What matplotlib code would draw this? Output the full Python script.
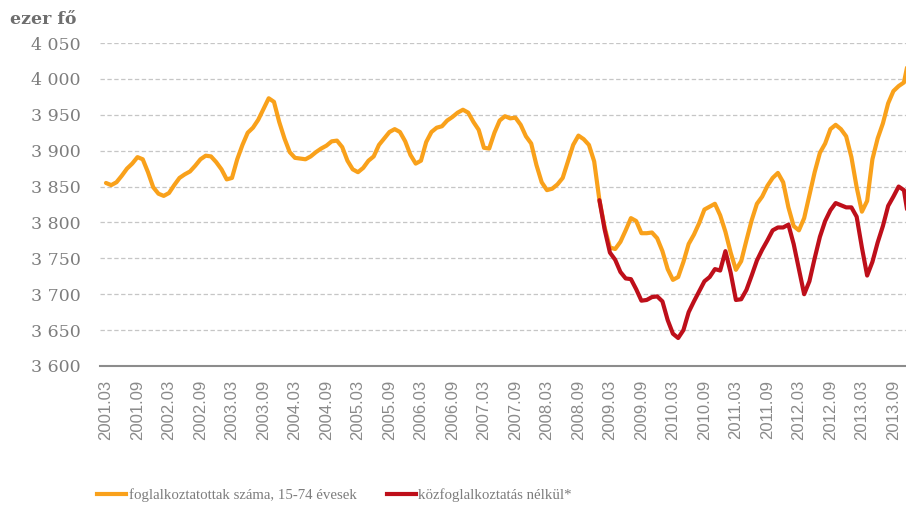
import matplotlib
matplotlib.use("Agg")
import matplotlib.pyplot as plt
import numpy as np
from matplotlib.lines import Line2D

# ---------------- data (thousand persons, monthly) ----------------
start_year, start_month = 2001, 3
employed = [
    3855, 3852, 3856, 3865, 3875, 3882, 3891, 3888, 3870, 3849,
    3840, 3837, 3841, 3852, 3862, 3867, 3871, 3879, 3888, 3893,
    3892, 3884, 3874, 3860, 3862, 3888, 3908, 3925, 3932, 3943,
    3958, 3973, 3968, 3940, 3917, 3898, 3890, 3889, 3888, 3892,
    3898, 3903, 3907, 3913, 3914, 3905, 3886, 3874, 3870, 3876,
    3886, 3892, 3908, 3917, 3926, 3930, 3926, 3913, 3894, 3882,
    3886, 3912, 3926, 3932, 3934, 3942, 3947, 3953, 3957, 3953,
    3940, 3929, 3904, 3903, 3925, 3942, 3948, 3945, 3946, 3936,
    3920, 3910, 3880, 3856, 3845, 3847, 3853, 3862, 3885, 3908,
    3921, 3916, 3908, 3885, 3831, 3793, 3765, 3763, 3773, 3789,
    3806, 3802, 3785, 3785, 3786, 3778, 3760, 3735, 3720, 3724,
    3745, 3770, 3783, 3799, 3818, 3822, 3826, 3810, 3787, 3758,
    3734, 3746, 3775, 3803, 3826, 3836, 3851, 3862, 3869, 3856,
    3821, 3795, 3789, 3806, 3838, 3870, 3897, 3910, 3930, 3936,
    3930, 3920, 3891, 3849, 3815, 3830, 3888, 3917, 3938, 3966,
    3983, 3990, 3995, 4030,
]
no_public_works_start = "2009.01"
no_public_works = [
    3831, 3790, 3758, 3748, 3731, 3722, 3721, 3707, 3691, 3692,
    3696, 3697, 3690, 3664, 3645, 3639, 3650, 3675, 3690, 3704,
    3718, 3724, 3735, 3733, 3760, 3730, 3692, 3693, 3706, 3726,
    3747, 3762, 3775, 3789, 3793, 3793, 3797, 3770, 3735, 3700,
    3718, 3750, 3780, 3802, 3817, 3827, 3824, 3821, 3821, 3808,
    3765, 3726, 3745, 3772, 3795, 3823, 3836, 3850, 3845, 3800,
]
tick_labels = [
    "2001.03", "2001.09", "2002.03", "2002.09", "2003.03", "2003.09",
    "2004.03", "2004.09", "2005.03", "2005.09", "2006.03", "2006.09",
    "2007.03", "2007.09", "2008.03", "2008.09", "2009.03", "2009.09",
    "2010.03", "2010.09", "2011.03", "2011.09", "2012.03", "2012.09",
    "2013.03", "2013.09",
]
y_ticks = [3600, 3650, 3700, 3750, 3800, 3850, 3900, 3950, 4000, 4050]
series_labels = ["foglalkoztatottak száma, 15-74 évesek", "közfoglalkoztatás nélkül*"]
unit_label = "ezer fő"

# ---------------- build month axis ----------------
months = []
y, mth = start_year, start_month
for _ in range(len(employed)):
    months.append(f"{y}.{mth:02d}")
    mth += 1
    if mth > 12:
        mth = 1
        y += 1
x = np.arange(len(months))
red_idx = months.index(no_public_works_start)
red_x = x[red_idx:red_idx + len(no_public_works)]

ORANGE = "#F9A11B"
RED = "#BE0F1A"
GREY_TXT = "#7d7d7d"

fig = plt.figure(figsize=(9.06, 5.05), dpi=100)
ax = fig.add_axes([100 / 906, (505 - 366) / 505, (906 - 100) / 906, (366 - 43) / 505])

ax.plot(x, employed, color=ORANGE, lw=3.0, solid_capstyle="round", solid_joinstyle="round", zorder=3)
ax.plot(red_x, no_public_works, color=RED, lw=3.0, solid_capstyle="round", solid_joinstyle="round", zorder=4)

ax.set_ylim(3600, 4050)
ax.set_xlim(-1.14, 152.4)
ax.set_yticks(y_ticks)
ax.set_yticklabels([f"{v:,}".replace(",", " ") for v in y_ticks],
                   family="DejaVu Serif", fontsize=12.5, color=GREY_TXT)
tick_pos = [months.index(t) for t in tick_labels]
ax.set_xticks(tick_pos)
ax.set_xticklabels(tick_labels, rotation=90, family="Liberation Sans", fontsize=12,
                   color="#8a8a8a", va="top", ha="center")
ax.tick_params(axis="y", length=0, pad=14)
ax.tick_params(axis="x", length=0, pad=10)

ax.yaxis.grid(True, linestyle=(0, (3.5, 2)), color="#c6c6c6", lw=0.9)
ax.set_axisbelow(True)
for s in ("left", "right", "top"):
    ax.spines[s].set_visible(False)
ax.spines["bottom"].set_color("#8c8c8c")
ax.spines["bottom"].set_linewidth(1.5)
ax.spines["bottom"].set_zorder(5)

fig.text(10 / 906, 1 - 20 / 505, unit_label, family="DejaVu Serif", fontweight="bold",
         fontsize=12.5, color="#6e6e6e", va="center", ha="left")

handles = [Line2D([0], [0], color=ORANGE, lw=3), Line2D([0], [0], color=RED, lw=3)]
fig.legend(handles, series_labels, loc="center left", bbox_to_anchor=(97 / 906, 10 / 505),
           ncol=2, frameon=False, handlelength=1.95, handletextpad=0.2, columnspacing=2.0,
           borderpad=0, borderaxespad=0,
           prop={"family": "Liberation Serif", "size": 10.7}, labelcolor=GREY_TXT)

fig.savefig("out.png", dpi=100)
